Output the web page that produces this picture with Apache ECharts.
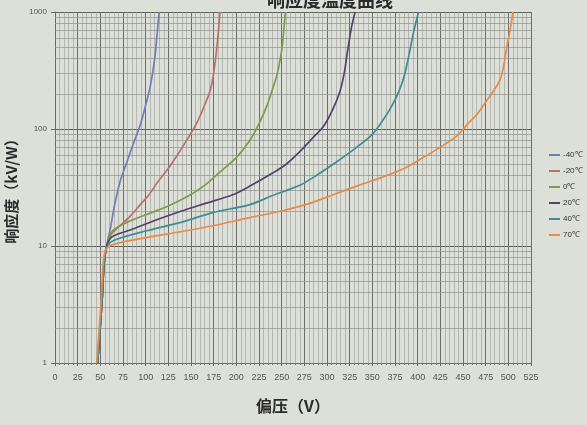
<!DOCTYPE html>
<html>
<head>
<meta charset="utf-8">
<script src="https://cdn.jsdelivr.net/npm/echarts@6/dist/echarts.min.js"></script>
<style>
  html, body { margin: 0; padding: 0; background: #dde0d8; }
  #chart { width: 587px; height: 425px; }
</style>
</head>
<body>
<div id="chart"></div>
<script>
// temperature curves: [bias V, responsivity kV/W]
const names = ['-40℃', '-20℃', '0℃', '20℃', '40℃', '70℃'];
const colors = ['#6f7fb3', '#b9706c', '#7c9c4c', '#55406f', '#3d8c98', '#e48c48'];

const tM40 = [[47, 1], [52, 3.5], [54, 6.8], [57, 10], [61, 14], [64, 19], [67, 25], [72, 36], [80, 54], [87, 77], [94, 108],
    [100, 160], [105, 230], [110, 400], [113, 700], [115, 1000]];
const tM20 = [[47, 1], [52, 3.5], [54, 6.8], [57, 10], [61, 12.3], [70, 14.5], [83, 18], [95, 23], [103, 27],
    [113, 35], [124, 45], [135, 60], [146, 82], [157, 115], [165, 160], [171, 211], [175, 300], [179, 540], [182, 1000]];
const t0 = [[47, 1], [52, 3.5], [54, 6.8], [57, 10], [64, 13.6], [80, 16], [101, 18.6], [125, 22], [148, 27],
    [165, 33], [182, 43], [200, 57], [215, 80], [226, 115], [234, 160], [240, 220], [245, 294], [249, 420], [251, 540], [254, 1000]];
const t20 = [[47, 1], [52, 3.5], [54, 6.8], [57, 10], [63, 12], [83, 13.7], [110, 16.5], [138, 19.7], [165, 23],
    [196, 27.4], [215, 32.5], [240, 42], [255, 50], [270, 64], [283, 82], [296, 105], [306, 145], [314, 206],
    [319, 300], [322, 428], [327, 740], [331, 1000]];
const t40 = [[47, 1], [52, 3.5], [54, 6.8], [57, 9.6], [64, 11.1], [101, 13.5], [140, 16], [174, 19.3], [215, 22.6],
    [240, 27], [270, 33], [289, 40.5], [310, 52], [333, 70], [350, 90], [362, 120], [372, 160], [380, 216],
    [386, 300], [391, 452], [396, 700], [401, 1000]];
const t70 = [[46, 1], [51, 3.5], [53, 6.8], [56, 9.3], [64, 10.3], [101, 11.8], [140, 13.3], [174, 14.9], [215, 17.5],
    [251, 20], [280, 23], [306, 27.3], [335, 33], [362, 39], [385, 46], [406, 57], [425, 70], [443, 87], [455, 110],
    [465, 132], [476, 174], [485, 220], [491, 264], [495, 350], [498, 490], [502, 700], [505, 1000]];
const curves = [tM40, tM20, t0, t20, t40, t70];

// log minor grid lines
const yMinor = [2, 3, 4, 5, 6, 7, 8, 9, 20, 30, 40, 50, 60, 70, 80, 90, 200, 300, 400, 500, 600, 700, 800, 900];

let myChart = echarts.init(document.getElementById('chart'));

let series = curves.map((d, i) => ({
    name: names[i],
    type: 'line',
    data: d,
    smooth: 0.3,
    showSymbol: false,
    z: 5,
    lineStyle: {width: 1.7, color: colors[i]},
    itemStyle: {color: colors[i]}
}));

// dummy series carrying the minor horizontal grid lines
series.push({
    name: 'grid',
    type: 'line',
    data: [],
    z: 1,
    markLine: {
        silent: true,
        symbol: 'none',
        label: {show: false},
        animation: false,
        lineStyle: {color: '#8e8f8a', width: 0.7, type: 'solid'},
        data: yMinor.map(v => ({yAxis: v}))
    }
});

let option = {
    animation: false,
    backgroundColor: '#dde0d8',
    title: {
        text: '响应度温度曲线',
        left: 262,
        top: -14,
        textStyle: {fontSize: 18, fontWeight: 'bold', color: '#2a2a2a', fontFamily: 'Noto Sans CJK SC'}
    },
    legend: {
        orient: 'vertical',
        left: 544,
        top: 146,
        itemWidth: 11,
        itemHeight: 2,
        itemGap: 8,
        icon: 'rect',
        data: names,
        textStyle: {fontSize: 8, color: '#333', padding: [0, 0, 0, -2]}
    },
    grid: {left: 55, right: 56, top: 12, bottom: 62, outerBoundsMode: 'none'},
    xAxis: {
        type: 'value',
        min: 0,
        max: 525,
        interval: 25,
        name: '偏压（V）',
        nameLocation: 'middle',
        nameGap: 35,
        nameTextStyle: {fontSize: 16, fontWeight: 'bold', color: '#2a2a2a', fontFamily: 'Noto Sans CJK SC'},
        axisLine: {show: true, lineStyle: {color: '#6a6a6a'}},
        axisTick: {show: true, length: 3, lineStyle: {color: '#6a6a6a'}},
        minorTick: {show: true, splitNumber: 5, length: 2, lineStyle: {color: '#777'}},
        axisLabel: {fontSize: 9, color: '#555', margin: 10},
        splitLine: {show: true, lineStyle: {color: '#6e6f6a', width: 1}},
        minorSplitLine: {show: true, lineStyle: {color: '#9a9b96', width: 0.6}}
    },
    yAxis: {
        type: 'log',
        logBase: 10,
        min: 1,
        max: 1000,
        name: '响应度（kV/W）',
        nameLocation: 'middle',
        nameRotate: 90,
        nameGap: 34,
        nameTextStyle: {fontSize: 15, fontWeight: 'bold', color: '#2a2a2a', fontFamily: 'Noto Sans CJK SC'},
        axisLine: {show: true, lineStyle: {color: '#6a6a6a'}},
        axisTick: {show: true, length: 4, lineStyle: {color: '#6a6a6a'}},
        axisLabel: {fontSize: 8, color: '#555', margin: 8, formatter: v => String(Math.round(v))},
        splitLine: {show: true, lineStyle: {color: '#5e5f5a', width: 1.2}}
    },
    series: series
};

myChart.setOption(option);
</script>
</body>
</html>
